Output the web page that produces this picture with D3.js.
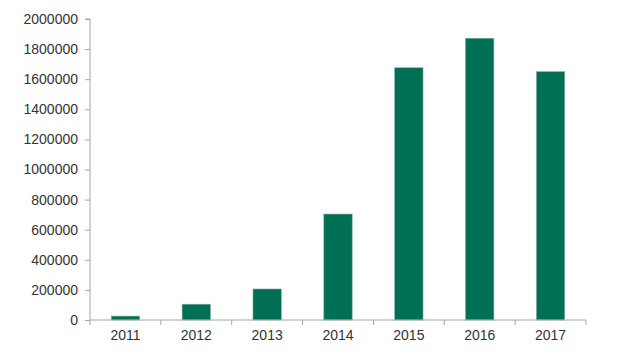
<!DOCTYPE html>
<html>
<head>
<meta charset="utf-8">
<script src="https://cdn.jsdelivr.net/npm/d3@7"></script>
<style>
  html, body { margin: 0; padding: 0; background: #fff; }
  svg { display: block; }
</style>
</head>
<body>
<svg id="chart" width="617" height="359"></svg>
<script>
const categories = ["2011", "2012", "2013", "2014", "2015", "2016", "2017"];
const values = [26000, 105000, 206000, 704000, 1676000, 1872000, 1650000];
const yTicks = [0, 200000, 400000, 600000, 800000, 1000000, 1200000, 1400000, 1600000, 1800000, 2000000];

(function () {
const svg = d3.select("#chart");
const mLeft = 90, mRight = 586, mTop = 19, mBottom = 320;
const axisColor = "#a6a6a6";
const textColor = "#333";
const barColor = "#006f53";

const x = d3.scaleBand().domain(categories).range([mLeft, mRight]).padding(0);
const y = d3.scaleLinear().domain([0, 2000000]).range([mBottom, mTop]);

// bars
const barW = x.bandwidth() * 0.4;
svg.append("g").selectAll("rect").data(categories).join("rect")
  .attr("x", d => x(d) + (x.bandwidth() - barW) / 2)
  .attr("width", barW)
  .attr("y", (d, i) => y(values[i]))
  .attr("height", (d, i) => y(0) - y(values[i]))
  .attr("fill", barColor)
  .attr("stroke", "#7fae9c")
  .attr("stroke-width", 0.6);

// y axis
const yAxis = d3.axisLeft(y).tickValues(yTicks).tickFormat(d3.format("d")).tickSize(5).tickPadding(7);
const gy = svg.append("g").attr("transform", `translate(${mLeft},0)`).call(yAxis);
gy.select(".domain").attr("stroke", axisColor).attr("d", `M-5,${mTop}H0V${mBottom}`);
gy.selectAll(".tick line").attr("stroke", axisColor);
gy.selectAll(".tick text").attr("fill", textColor)
  .style("font-family", "'Liberation Sans', Arial, sans-serif").style("font-size", "14px");

// x axis
const xAxis = d3.axisBottom(x).tickSize(0).tickPadding(10);
const gx = svg.append("g").attr("transform", `translate(0,${mBottom})`).call(xAxis);
gx.select(".domain").attr("stroke", axisColor).attr("d", `M${mLeft},0H${mRight}`);
gx.selectAll(".tick text").attr("fill", textColor)
  .style("font-family", "'Liberation Sans', Arial, sans-serif").style("font-size", "14px");
// boundary ticks between bands
const bounds = categories.map(c => x(c)).concat([mRight]);
gx.append("g").selectAll("line").data(bounds).join("line")
  .attr("x1", d => d).attr("x2", d => d)
  .attr("y1", 0).attr("y2", 5)
  .attr("stroke", axisColor);
})();
</script>
</body>
</html>
